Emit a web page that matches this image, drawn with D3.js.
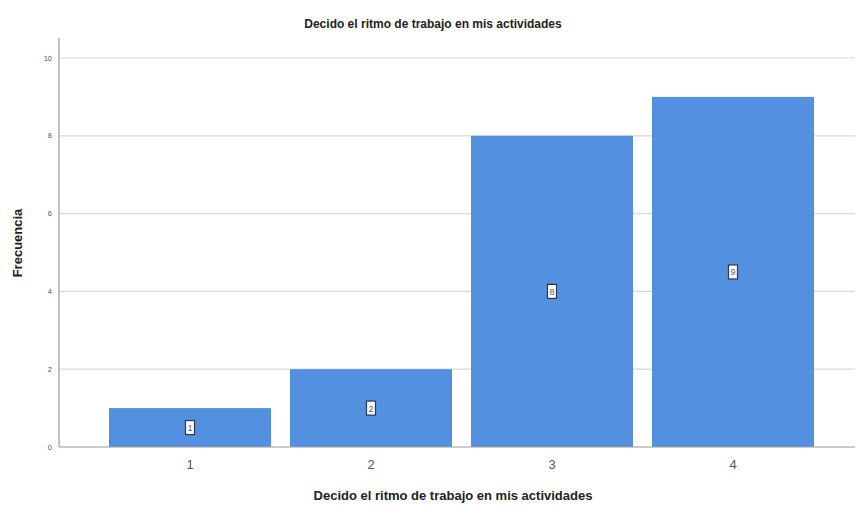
<!DOCTYPE html>
<html><head><meta charset="utf-8">
<script src="https://cdn.jsdelivr.net/npm/d3@7"></script>
<style>body{margin:0;background:#fff}svg{display:block}</style>
</head><body><svg id="c" width="860" height="506"></svg>
<script>
const categories = ["1","2","3","4"];
const values = [1,2,8,9];
const yTicks = [0,2,4,6,8,10];
const title = "Decido el ritmo de trabajo en mis actividades";
const xTitle = "Decido el ritmo de trabajo en mis actividades";
const yTitle = "Frecuencia";

const svg = d3.select("#c");
const font = "Arial, 'Liberation Sans', sans-serif";
const x = d3.scaleBand().domain(categories).range([99.5, 823.5]).paddingInner(0.105).paddingOuter(0.0525);
const y = d3.scaleLinear().domain([0,10]).range([447, 58]);

// grid
svg.append("g").selectAll("line").data(yTicks.filter(d=>d>0)).join("line")
  .attr("x1",59).attr("x2",855).attr("y1",d=>y(d)).attr("y2",d=>y(d))
  .attr("stroke","#d9d9d9").attr("stroke-width",1.2);

// bars
svg.append("g").selectAll("rect").data(values).join("rect")
  .attr("x",(d,i)=>x(categories[i])).attr("width",x.bandwidth())
  .attr("y",d=>y(d)).attr("height",d=>y(0)-y(d))
  .attr("fill","#5391e0");

// axes lines
svg.append("line").attr("x1",59).attr("x2",59).attr("y1",38).attr("y2",447).attr("stroke","#999").attr("stroke-width",1.2);
svg.append("line").attr("x1",59).attr("x2",855).attr("y1",447).attr("y2",447).attr("stroke","#999").attr("stroke-width",1.2);

// y tick labels
svg.append("g").selectAll("text").data(yTicks).join("text")
  .attr("x",52).attr("y",d=>y(d)+2.5).attr("text-anchor","end")
  .attr("font-family",font).attr("font-size",7.5).attr("fill","#555").text(d=>d);

// x tick labels
svg.append("g").selectAll("text").data(categories).join("text")
  .attr("x",d=>x(d)+x.bandwidth()/2).attr("y",469).attr("text-anchor","middle")
  .attr("font-family",font).attr("font-size",13).attr("fill","#555").text(d=>d);

// value labels
const lab = svg.append("g").selectAll("g").data(values).join("g")
  .attr("transform",(d,i)=>`translate(${x(categories[i])+x.bandwidth()/2},${(y(0)+y(d))/2})`);
lab.append("rect").attr("x",-4.5).attr("y",-7).attr("width",9).attr("height",14)
  .attr("fill","#fff").attr("stroke","#2a3550").attr("stroke-width",1.2);
lab.append("text").attr("y",3.5).attr("text-anchor","middle")
  .attr("font-family",font).attr("font-size",9).attr("fill","#555").text(d=>d);

// titles
svg.append("text").attr("x",433).attr("y",28).attr("text-anchor","middle")
  .attr("font-family",font).attr("font-size",12).attr("font-weight","bold").attr("fill","#222").text(title);
svg.append("text").attr("x",453).attr("y",500).attr("text-anchor","middle")
  .attr("font-family",font).attr("font-size",13).attr("font-weight","bold").attr("fill","#222").text(xTitle);
svg.append("text").attr("transform","translate(22,243) rotate(-90)").attr("text-anchor","middle")
  .attr("font-family",font).attr("font-size",13).attr("font-weight","bold").attr("fill","#222").text(yTitle);
</script></body></html>
